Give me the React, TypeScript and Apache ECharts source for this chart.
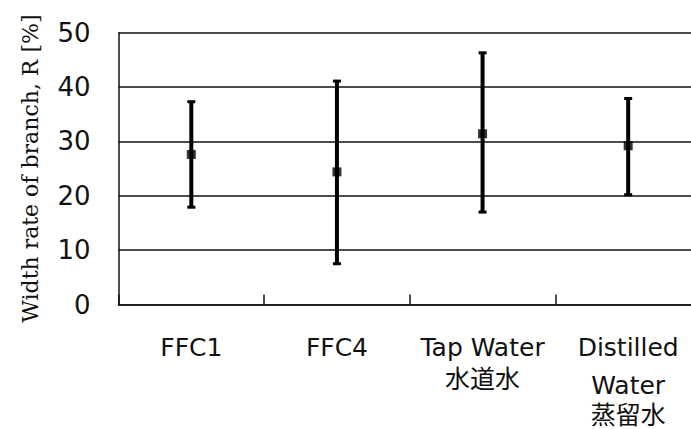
import React, { useEffect, useRef } from "react";
import * as echarts from "echarts";

const categories = ["FFC1", "FFC4", "Tap Water\n水道水", "Distilled\nWater\n蒸留水"];
const means = [27.6, 24.4, 31.4, 29.2];
const upper = [37.3, 41.1, 46.3, 37.9];
const lower = [17.9, 7.5, 17.0, 20.2];
const yTicks = { min: 0, max: 50, interval: 10 };
const yName = "Width rate of branch, R [%]";

export default function App() {
  const ref = useRef<HTMLDivElement>(null);
  useEffect(() => {
    document.body.style.margin = "0";
    const chart = echarts.init(ref.current!, null, { renderer: "svg" });
    const sansFont = "'DejaVu Sans', 'Noto Sans CJK JP', sans-serif";
    chart.setOption({
      animation: false,
      backgroundColor: "#fff",
      grid: { left: 118.5, top: 32.7, right: 0, height: 271.8, containLabel: false },
      xAxis: {
        type: "category",
        data: categories,
        axisLine: { show: true, lineStyle: { color: "#111", width: 1.5 } },
        axisTick: { show: true, inside: true, length: 10, lineStyle: { color: "#111", width: 1.5 } },
        splitLine: { show: false },
        axisLabel: {
          margin: 27,
          color: "#111",
          fontFamily: sansFont,
          fontSize: 25,
          interval: 0,
          formatter: (v: string) => {
            const lines = v.split("\n");
            return lines
              .map((l, i) => {
                const s = i === 0 ? "a" : lines.length === 3 ? (i === 1 ? "b" : "c") : "a";
                return `{${s}|${l}}`;
              })
              .join("\n");
          },
          rich: {
            a: { fontFamily: sansFont, fontSize: 25, lineHeight: 32, color: "#111" },
            b: { fontFamily: sansFont, fontSize: 25, lineHeight: 44, color: "#111" },
            c: { fontFamily: sansFont, fontSize: 25, lineHeight: 16, color: "#111" },
          },
        },
      },
      yAxis: {
        type: "value",
        min: yTicks.min,
        max: yTicks.max,
        interval: yTicks.interval,
        name: yName,
        nameLocation: "middle",
        nameGap: 77,
        nameRotate: 90,
        nameTextStyle: { fontFamily: "'DejaVu Serif', serif", fontSize: 22, color: "#111" },
        axisLine: { show: true, lineStyle: { color: "#111", width: 1.5 } },
        axisTick: { show: false },
        splitLine: { show: true, lineStyle: { color: "#111", width: 1.5 } },
        axisLabel: { margin: 28, color: "#111", fontFamily: sansFont, fontSize: 26 },
      },
      series: [
        {
          type: "custom",
          data: categories.map((_, i) => [i, lower[i], upper[i]]),
          renderItem: (params: any, api: any) => {
            const lo = api.coord([api.value(0), api.value(1)]);
            const hi = api.coord([api.value(0), api.value(2)]);
            const cw = 4;
            const style = { stroke: "#000", lineWidth: 4 };
            const cap = { stroke: "#000", lineWidth: 3 };
            return {
              type: "group",
              children: [
                { type: "line", shape: { x1: lo[0], y1: lo[1], x2: hi[0], y2: hi[1] }, style },
                { type: "line", shape: { x1: hi[0] - cw, y1: hi[1], x2: hi[0] + cw, y2: hi[1] }, style: cap },
                { type: "line", shape: { x1: lo[0] - cw, y1: lo[1], x2: lo[0] + cw, y2: lo[1] }, style: cap },
              ],
            };
          },
          z: 3,
        },
        {
          type: "scatter",
          data: means,
          symbol: "rect",
          symbolSize: 9,
          itemStyle: { color: "#000" },
          z: 4,
        },
      ],
    });
    return () => chart.dispose();
  }, []);
  return (
    <div style={{ width: 691, height: 429, overflow: "hidden", position: "relative" }}>
      <div ref={ref} style={{ width: 701, height: 429 }} />
    </div>
  );
}
